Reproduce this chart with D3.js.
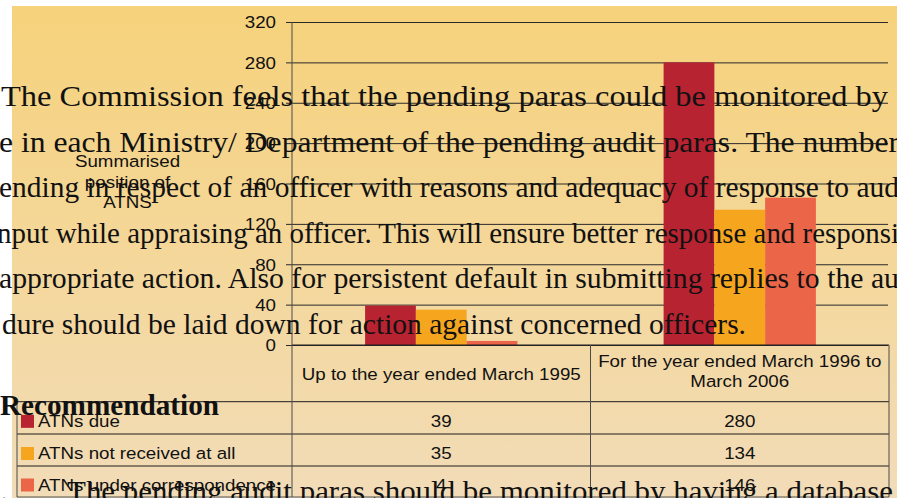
<!DOCTYPE html>
<html>
<head>
<meta charset="utf-8">
<script src="https://cdn.jsdelivr.net/npm/d3@7"></script>
<style>
  html, body { margin: 0; padding: 0; background: #fff; }
  svg { display: block; }
</style>
</head>
<body>
<svg id="chart" width="897" height="498"></svg>
<script>
// --- data ---
const categories = ["Up to the year ended March 1995", "For the year ended March 1996 to March 2006"];
const headerLines = [["Up to the year ended March 1995"], ["For the year ended March 1996 to", "March 2006"]];
const seriesNames = ["ATNs due", "ATNs not received at all", "ATNs under correspondence"];
const atnsDue = [39, 280];
const atnsNotReceived = [35, 134];
const atnsUnderCorrespondence = [4, 146];
const yTicks = [0, 40, 80, 120, 160, 200, 240, 280, 320];
const yTitle = ["Summarised", "position of", "ATNS"];

// document text lying over the chart
const pageLines = [
  "The Commission feels that the pending paras could be monitored by",
  "e in each Ministry/ Department of the pending audit paras. The number",
  "ending in respect of an officer with reasons and adequacy of response to aud",
  "nput while appraising an officer. This will ensure better response and responsi",
  "appropriate action. Also for persistent default in submitting replies to the au",
  "dure should be laid down for action against concerned officers."
];
const headingText = "Recommendation";
const itemNumber = "1.";
const itemText = "The pending audit paras should be monitored by having a database";

const series = [atnsDue, atnsNotReceived, atnsUnderCorrespondence];
const colors = ["#b82331", "#f6a61e", "#eb6549"];

// --- layout ---
const svg = d3.select("#chart");
const SX = 1.15;               // chart text is a little stretched sideways
const sans = "'Liberation Sans', Arial, sans-serif";
const serif = "'Liberation Serif', 'Times New Roman', serif";

const plot = { left: 292, right: 889, top: 22, bottom: 345 };
const table = { left: 17, headBottom: 401.7, rows: [401.7, 434, 466, 497] };

// background
const defs = svg.append("defs");
const grad = defs.append("linearGradient").attr("id", "bg").attr("x1", 0).attr("y1", 0).attr("x2", 0).attr("y2", 1);
grad.append("stop").attr("offset", "0%").attr("stop-color", "#f6d27b");
grad.append("stop").attr("offset", "100%").attr("stop-color", "#f2dcb8");
svg.append("rect").attr("x", 12).attr("y", 6).attr("width", 885).attr("height", 492).attr("fill", "url(#bg)");

const y = d3.scaleLinear().domain([0, 320]).range([plot.bottom, plot.top]);
const x0 = d3.scaleBand().domain(categories).range([plot.left, plot.right]).padding(0);
const x1 = d3.scaleBand().domain(seriesNames).range([0, x0.bandwidth()]).paddingInner(0).paddingOuter(1.44);

// gridlines + tick labels through the axis
const yAxis = d3.axisLeft(y).tickValues(yTicks).tickSizeInner(-(plot.right - 1 - plot.left)).tickSizeOuter(0).tickPadding(0);
const gAxis = svg.append("g").attr("transform", `translate(${plot.left},0)`).call(yAxis);
gAxis.select(".domain").remove();
gAxis.selectAll(".tick line").attr("stroke", "#2a2a2a").attr("stroke-width", 1);
gAxis.selectAll(".tick").append("line").attr("x1", -6).attr("x2", 0).attr("stroke", "#2a2a2a");
gAxis.selectAll(".tick text")
  .attr("x", -16 / SX)
  .attr("dy", "0.36em")
  .attr("transform", `scale(${SX},1)`)
  .attr("font-family", sans).attr("font-size", 16.3).attr("fill", "#111");

// bars
const groups = svg.append("g").selectAll("g").data(categories).join("g")
  .attr("transform", d => `translate(${x0(d)},0)`);
groups.selectAll("rect")
  .data((d, ci) => seriesNames.map((s, si) => ({ s, v: series[si][ci], c: colors[si] })))
  .join("rect")
  .attr("x", d => x1(d.s))
  .attr("width", x1.bandwidth())
  .attr("y", d => y(d.v))
  .attr("height", d => y(0) - y(d.v))
  .attr("fill", d => d.c);

// stretched sans text helper
function stext(parent, x, yy, str, anchor) {
  return parent.append("text")
    .attr("transform", `translate(${x},${yy}) scale(${SX},1)`)
    .attr("text-anchor", anchor || "start")
    .attr("font-family", sans).attr("font-size", 16.3).attr("fill", "#111")
    .text(str);
}

// y axis title
yTitle.forEach((t, i) => stext(svg, 127.5, 167 + i * 20.5, t, "middle"));

// data table
const gT = svg.append("g");
const line = (x1_, y1_, x2_, y2_, col) => gT.append("line")
  .attr("x1", x1_).attr("y1", y1_).attr("x2", x2_).attr("y2", y2_)
  .attr("stroke", col || "#1e1e1e").attr("stroke-width", 1);

line(plot.left, plot.bottom, plot.right, plot.bottom);
table.rows.forEach(r => line(table.left, r, plot.right, r, r === 497 ? "#555" : "#1e1e1e"));
line(plot.left, plot.top, plot.left, 497, "#4a4a4a");
line(table.left, table.headBottom, table.left, 497, "#4a4a4a");
categories.forEach(c => line(x0(c) + x0.bandwidth(), plot.bottom, x0(c) + x0.bandwidth(), 497, "#4a4a4a"));

headerLines.forEach((ls, ci) => {
  const cx = x0(categories[ci]) + x0.bandwidth() / 2;
  const top = ls.length === 1 ? 380 : 367;
  ls.forEach((t, i) => stext(gT, cx, top + i * 20, t, "middle"));
});

seriesNames.forEach((s, si) => {
  const rTop = table.rows[si], rBot = table.rows[si + 1];
  const mid = (rTop + rBot) / 2;
  gT.append("rect").attr("x", 21).attr("y", mid - 3).attr("width", 13).attr("height", 13).attr("fill", colors[si]);
  stext(gT, 38, mid + 9, s);
  categories.forEach((c, ci) => {
    stext(gT, x0(c) + x0.bandwidth() / 2, mid + 9, String(series[si][ci]), "middle");
  });
});

// document text over everything
const pageExtents = [[1, 888], [-1, 899], [-1, 899], [-3, 899], [-1, 899], [2, 746]];
const gP = svg.append("g").attr("font-family", serif).attr("fill", "#111");
pageLines.forEach((t, i) => {
  gP.append("text")
    .attr("x", pageExtents[i][0]).attr("y", 106 + i * 45.5)
    .attr("font-size", 30)
    .attr("textLength", pageExtents[i][1] - pageExtents[i][0])
    .attr("lengthAdjust", "spacingAndGlyphs")
    .text(t);
});
gP.append("text").attr("x", 0).attr("y", 415).attr("font-size", 30).attr("font-weight", "bold")
  .attr("textLength", 219).attr("lengthAdjust", "spacingAndGlyphs").text(headingText);
gP.append("text").attr("x", 8).attr("y", 501).attr("font-size", 30).attr("text-anchor", "end").text(itemNumber);
gP.append("text").attr("x", 67).attr("y", 501).attr("font-size", 30)
  .attr("textLength", 826).attr("lengthAdjust", "spacingAndGlyphs").text(itemText);
</script>
</body>
</html>
